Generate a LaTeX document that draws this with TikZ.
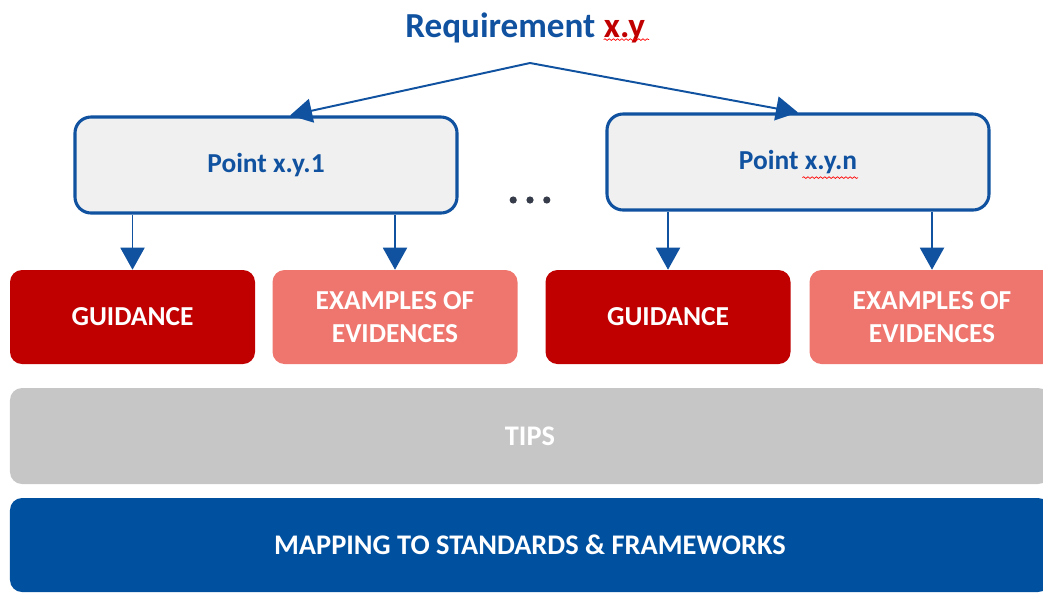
\documentclass[tikz,border=0pt]{standalone}
\usepackage{fontspec}
\setmainfont{Carlito}
\usetikzlibrary{positioning,calc,arrows.meta,decorations.pathmorphing}
\definecolor{reqblue}{RGB}{16,82,160}
\definecolor{ptfill}{RGB}{240,240,240}
\definecolor{guidered}{RGB}{192,0,0}
\definecolor{evidred}{RGB}{238,118,110}
\definecolor{tipgray}{RGB}{198,198,198}
\definecolor{mapblue}{RGB}{0,80,160}
\definecolor{dotgray}{RGB}{55,60,75}
\tikzset{
  heading/.style={font=\fontsize{25}{29}\selectfont\bfseries,text height=0.75em,text depth=0.22em,inner sep=0pt},
  pointbox/.style={draw=reqblue,line width=2.2pt,fill=ptfill,rounded corners=0.4cm,minimum width=9.55cm,minimum height=2.4cm,text=reqblue,font=\fontsize{19.5}{23}\selectfont\bfseries},
  tile/.style={rounded corners=0.3cm,minimum width=6.125cm,minimum height=2.35cm,text=white,align=center,font=\fontsize{19.5}{23}\selectfont\bfseries,inner sep=0pt},
  band/.style={tile,minimum width=26cm,minimum height=2.4cm,font=\fontsize{20.2}{24}\selectfont\bfseries},
  link/.style={draw=reqblue,line width=1.4pt,-{Triangle[width=0.6cm,length=0.55cm]}},
  spell/.style={draw=red,line width=0.5pt,decorate,decoration={snake,amplitude=0.6pt,segment length=3pt}},
}
\begin{document}
\begin{tikzpicture}
  \useasboundingbox (0,0) rectangle (26.075,-14.8);
  % title
  \node[heading,text=reqblue,anchor=base west] (req) at (10.125,-0.925) {Requirement};
  \node[heading,text=guidered,anchor=base west] (reqxy) at ($(req.base east)+(0.2,0)$) {x.y};
  \draw[spell] ($(reqxy.south west)+(0,0.02)$) -- ($(reqxy.south east)+(0.1,0.02)$);
  \coordinate (fork) at (13.25,-1.575);
  % points
  \node[pointbox] (pt1) at (6.65,-4.125) {Point x.y.1};
  \node[pointbox] (ptn) at (19.95,-4.05) {Point x.y.n};
  \draw[spell] ($(ptn.center)+(0.11,-0.39)$) -- ($(ptn.center)+(1.5,-0.39)$);
  \draw[link] (fork) -- ($(pt1.north)+(0.6,0)$);
  \draw[link] (fork) -- (ptn.north);
  \foreach \d in {-0.42,0,0.42}
     \fill[dotgray] (13.25+\d,-5.0) circle (0.09);
  % guidance and evidences
  \node[tile,fill=guidered] (g1) at (3.3125,-7.925) {GUIDANCE};
  \node[tile,fill=evidred] (e1) at (9.875,-7.925) {EXAMPLES OF\\EVIDENCES};
  \node[tile,fill=guidered] (g2) at (16.7,-7.925) {GUIDANCE};
  \node[tile,fill=evidred] (e2) at (23.3,-7.925) {EXAMPLES OF\\EVIDENCES};
  \draw[link] (pt1.south -| g1.north) -- (g1.north);
  \draw[link] (pt1.south -| e1.north) -- (e1.north);
  \draw[link] (ptn.south -| g2.north) -- (g2.north);
  \draw[link] (ptn.south -| e2.north) -- (e2.north);
  % bands
  \node[band,fill=tipgray] (tips) at (13.25,-10.9) {TIPS};
  \node[band,fill=mapblue,minimum height=2.35cm] (map) at (13.25,-13.625) {MAPPING TO STANDARDS \& FRAMEWORKS};
\end{tikzpicture}
\end{document}
